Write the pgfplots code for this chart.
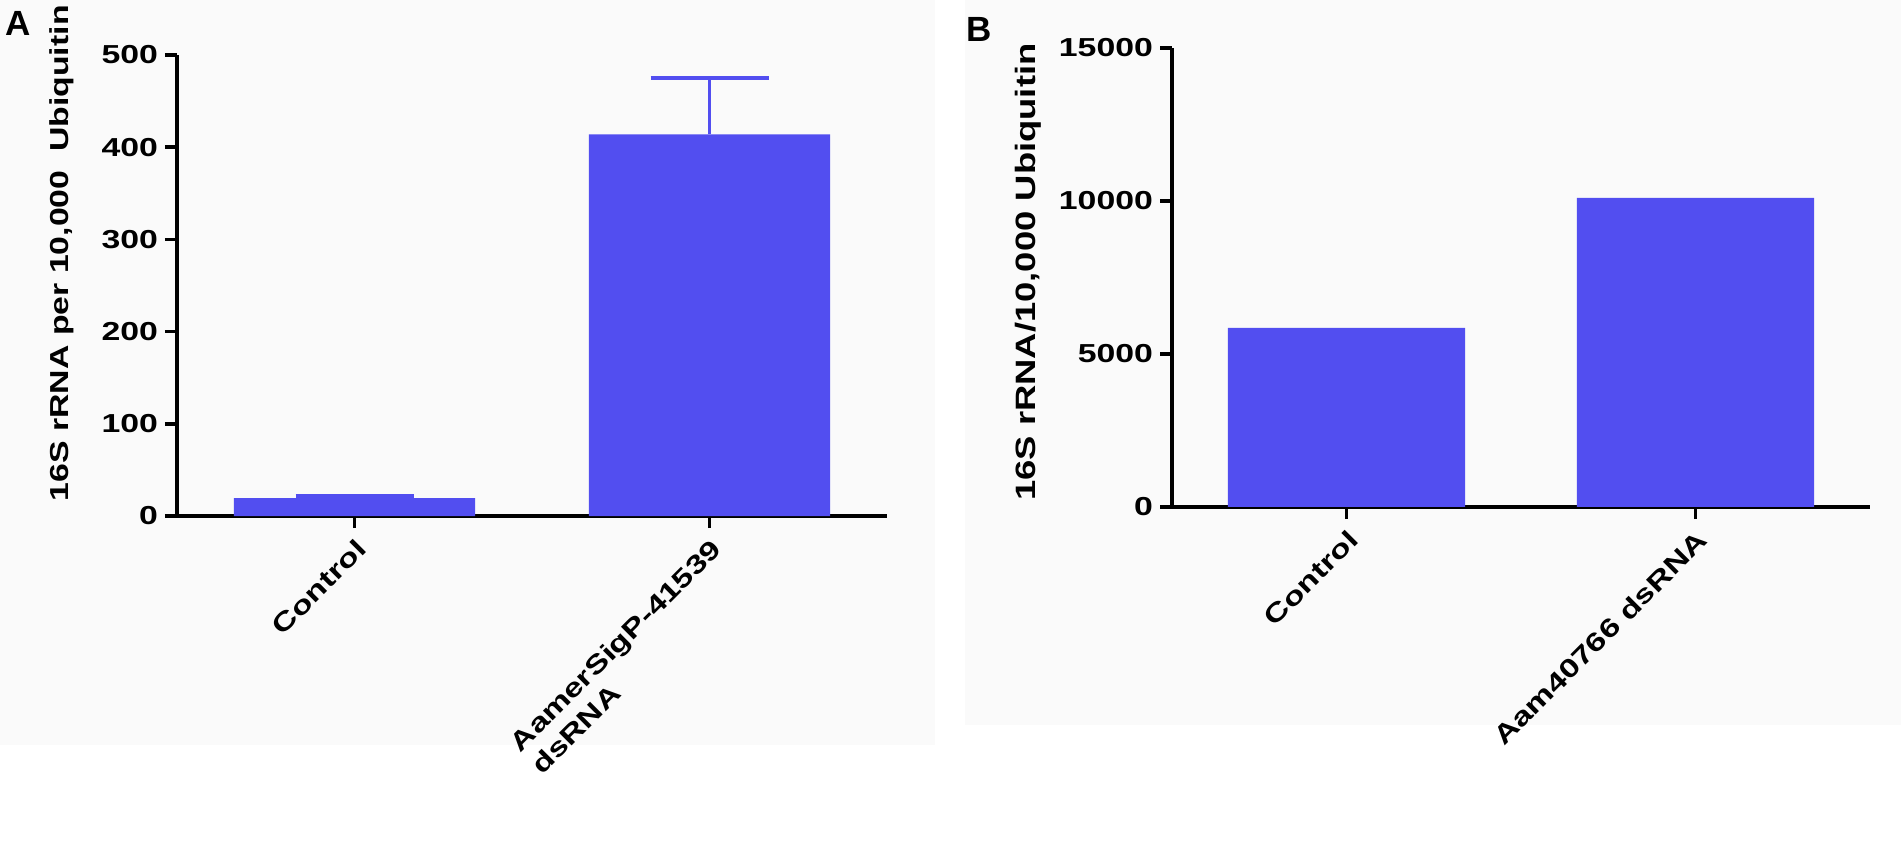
\documentclass[border=0pt]{standalone}
\usepackage{pgfplots}
\pgfplotsset{compat=1.18}
\usepackage{fontspec}
\setmainfont{Liberation Sans}
\newfontfamily\figfont{Liberation Sans}[FakeStretch=1.3]
\definecolor{barblue}{RGB}{82,78,240}
\definecolor{bgray}{RGB}{250,250,250}

\pgfplotsset{
  panel/.style={
    scale only axis,
    axis x line*=bottom, axis y line*=left,
    axis line style={line width=2pt, black},
    tick style={line width=1.8pt, black},
    major tick length=6pt,
    tick align=outside,
    xmin=-0.5, xmax=1.5, ymin=0,
    xtick={0,1},
    /pgf/number format/assume math mode=true,
    /pgf/number format/1000 sep={},
    scaled y ticks=false,
    ticklabel style={font=\figfont\bfseries\fontsize{13}{15.5}\selectfont},
    xticklabel style={rotate=45, anchor=north east, align=left},
    label style={font=\figfont\bfseries\fontsize{13}{15.5}\selectfont},
    ybar, bar width=0.68,
    clip=false,
  }
}

\begin{document}
\begin{tikzpicture}
\path[use as bounding box] (0,0) rectangle (950.5pt,428.5pt);
\fill[bgray] (0pt,56pt) rectangle (467.5pt,428.5pt);
\fill[bgray] (482.5pt,66pt) rectangle (950.5pt,428.5pt);

% Panel A
\begin{axis}[panel,
  at={(88.5pt,170.5pt)}, anchor=south west,
  width=355pt, height=230.5pt,
  ymax=500, ytick={0,100,200,300,400,500},
  xticklabels={Control,{AamerSigP-41539\\dsRNA}},
  ylabel={16S rRNA per 10,000\ \ Ubiquitin},
  ylabel style={at={(axis description cs:-0.162,0.57)}, anchor=center},
]
\addplot[fill=barblue, draw=none,
  error bars/.cd, y dir=plus, y explicit,
  error bar style={line width=1.5pt, barblue},
  error mark options={rotate=90, line width=2pt, barblue, mark size=29.5pt}]
  coordinates {(0,19.5) +- (0,2.2) (1,414) +- (0,61)};
\end{axis}

% Panel B
\begin{axis}[panel,
  at={(586pt,175pt)}, anchor=south west,
  width=349pt, height=229.5pt,
  ymax=15000, ytick={0,5000,10000,15000},
  xticklabels={Control,Aam40766 dsRNA},
  ylabel={16S rRNA/10,000 Ubiquitin},
  ylabel style={at={(axis description cs:-0.206,0.512)}, anchor=center, font=\figfont\bfseries\fontsize{14}{16}\selectfont},
]
\addplot[fill=barblue, draw=none] coordinates {(0,5850) (1,10100)};
\end{axis}

\node[anchor=north west, inner sep=0pt, font=\bfseries\fontsize{17.5}{20}\selectfont] at (2.5pt,423pt) {A};
\node[anchor=north west, inner sep=0pt, font=\bfseries\fontsize{17.5}{20}\selectfont] at (483pt,420pt) {B};
\end{tikzpicture}
\end{document}
